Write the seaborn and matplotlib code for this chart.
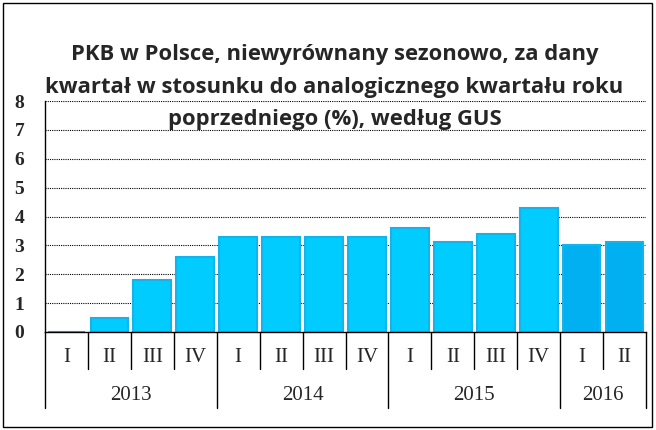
import matplotlib
matplotlib.use('Agg')
import matplotlib.pyplot as plt
import matplotlib.transforms as mtransforms
import seaborn as sns
import pandas as pd

# Dane
years = ['2013', '2014', '2015', '2016']
quarters = ['I', 'II', 'III', 'IV', 'I', 'II', 'III', 'IV', 'I', 'II', 'III', 'IV', 'I', 'II']
quarter_year = ['2013'] * 4 + ['2014'] * 4 + ['2015'] * 4 + ['2016'] * 2
values = [0.0, 0.5, 1.8, 2.6, 3.3, 3.3, 3.3, 3.3, 3.6, 3.1, 3.4, 4.3, 3.0, 3.1]
yticks = [0, 1, 2, 3, 4, 5, 6, 7, 8]
title = ('PKB w Polsce, niewyrównany sezonowo, za dany\n'
         'kwartał w stosunku do analogicznego kwartału roku\n'
         'poprzedniego (%), według GUS')

df = pd.DataFrame({'kw': [f'{y} {q}' for y, q in zip(quarter_year, quarters)],
                   'rok': quarter_year, 'wartosc': values})
colors = {'2013': '#00CCFF', '2014': '#00CCFF', '2015': '#00CCFF', '2016': '#00B0F0'}

sns.set_style('white')
fig = plt.figure(figsize=(6.56, 4.30), dpi=100)
ax = fig.add_axes([45 / 656, 1 - 332 / 430, 601 / 656, 231 / 430])

sns.barplot(data=df, x='kw', y='wartosc', hue='rok', palette=colors, dodge=False,
            saturation=1, width=0.88, edgecolor='#14B4EA', linewidth=1.5,
            legend=False, ax=ax)

ax.set_ylim(0, 8)
ax.set_xlim(-0.5, len(values) - 0.5)
ax.set_yticks(yticks)
ax.set_yticklabels([str(t) for t in yticks], fontfamily='Liberation Serif',
                   fontweight='bold', fontsize=14)
ax.tick_params(axis='y', direction='out', length=5, width=1, color='black', pad=10)
ax.set_xticks([])
ax.set_xlabel('')
ax.set_ylabel('')
for t in yticks[1:]:
    ax.axhline(t, color='black', linestyle=(0, (1, 1)), linewidth=0.8, zorder=0)
ax.set_axisbelow(True)
for s in ['top', 'right']:
    ax.spines[s].set_visible(False)
ax.spines['left'].set_color('black')
ax.spines['bottom'].set_color('black')
ax.spines['left'].set_linewidth(1)
ax.spines['bottom'].set_linewidth(1)
ax.spines['bottom'].set_zorder(5)

# Dwupoziomowa oś kategorii
trans = mtransforms.blended_transform_factory(ax.transData, ax.transAxes)
q_bottom = -(369 - 332) / 231
y_bottom = -(408 - 332) / 231
for i, q in enumerate(quarters):
    ax.text(i, -(357 - 332) / 231, q, transform=trans, ha='center', va='center',
            fontfamily='Liberation Serif', fontsize=15)
for i in range(len(quarters) + 1):
    x = i - 0.5
    year_edge = i == 0 or i == len(quarters) or quarter_year[i] != quarter_year[i - 1]
    ax.plot([x, x], [0, y_bottom if year_edge else q_bottom], transform=trans,
            color='black', linewidth=1, clip_on=False)
for y in years:
    idx = [i for i, qy in enumerate(quarter_year) if qy == y]
    ax.text(sum(idx) / len(idx), -(395 - 332) / 231, y, transform=trans,
            ha='center', va='center', fontfamily='Liberation Serif', fontsize=15)

fig.text(0.51, 1 - 87 / 430, title, ha='center', va='center', fontfamily='Open Sans',
         fontweight='bold', fontsize=15.8, linespacing=1.7)

fig.patches.append(plt.Rectangle((3 / 656, 3 / 430), 649 / 656, 424 / 430,
                                 transform=fig.transFigure, fill=False,
                                 edgecolor='black', linewidth=1))

fig.savefig('out.png', dpi=100)
